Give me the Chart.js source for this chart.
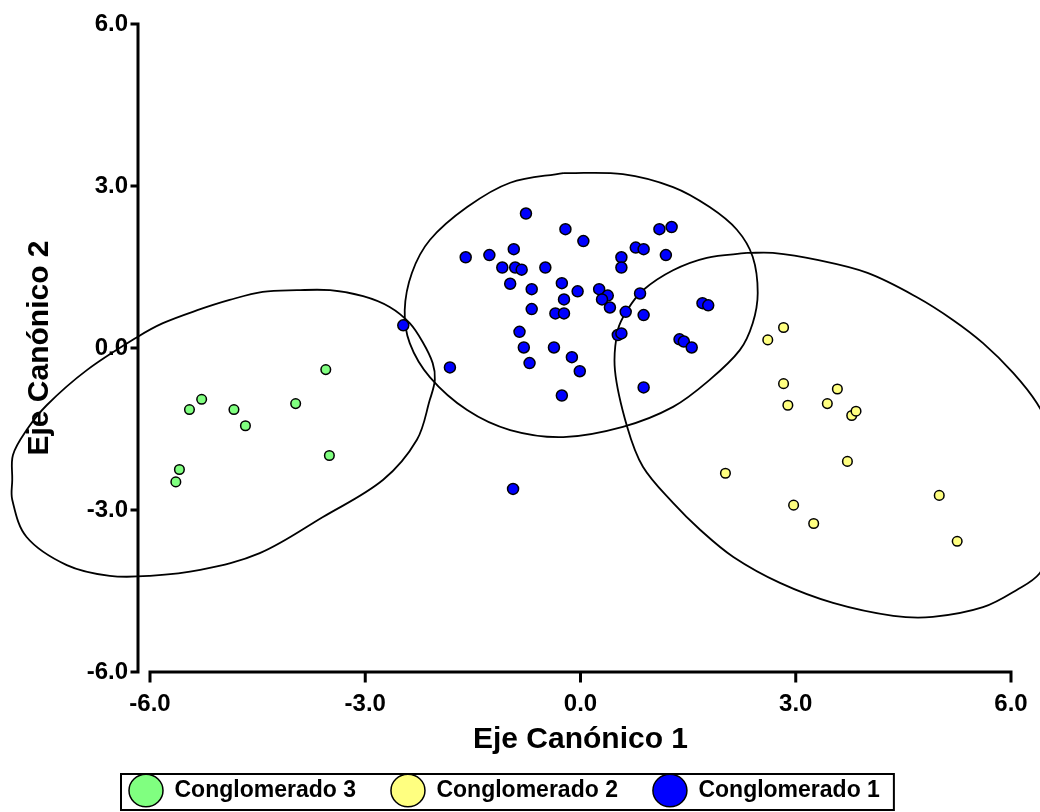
<!DOCTYPE html>
<html>
<head>
<meta charset="utf-8">
<script src="https://cdn.jsdelivr.net/npm/chart.js@4.4.0/dist/chart.umd.min.js"></script>
<style>
  html, body { margin: 0; padding: 0; background: #fff; }
  #wrap { width: 1040px; height: 812px; }
</style>
</head>
<body>
<div id="wrap"><canvas id="myChart"></canvas></div>
<script>
// tick values on both axes
const tickValues = [-6, -3, 0, 3, 6];

// Conglomerado 3 (green)
const c3x = [-3.55, -5.28, -5.45, -4.83, -3.97, -4.67, -3.50, -5.59, -5.64];
const c3y = [-0.40, -0.95, -1.14, -1.14, -1.03, -1.44, -1.99, -2.25, -2.48];

// Conglomerado 2 (yellow)
const c2x = [2.83, 2.61, 2.83, 2.89, 3.58, 3.44, 3.78, 3.84, 3.72, 2.02, 2.97, 3.25, 5.00, 5.25];
const c2y = [0.38, 0.15, -0.66, -1.06, -0.76, -1.03, -1.25, -1.17, -2.10, -2.32, -2.91, -3.25, -2.73, -3.58];

// Conglomerado 1 (blue)
const c1x = [-0.76, -0.21, 0.04, 1.10, 1.27, 0.77, 0.88, 0.57, 0.57, 1.19,
             -1.60, -1.27, -0.93, -1.09, -0.91, -0.82, -0.49, -0.98, -0.68, -0.26,
             -0.04, -0.23, 0.26, 0.38, 0.30, 0.41, 0.83, -0.68, -0.35, -0.23,
             0.63, 0.88, 1.70, 1.78, -2.47, -0.85, 0.52, 0.57, 1.38, 1.44,
             1.55, -0.79, -0.37, -0.12, -0.71, -0.01, -1.82, 0.88, -0.26, -0.94];
const c1y = [2.49, 2.20, 1.98, 2.20, 2.24, 1.86, 1.83, 1.68, 1.49, 1.72,
             1.68, 1.72, 1.83, 1.49, 1.49, 1.45, 1.49, 1.19, 1.09, 1.20,
             1.05, 0.90, 1.09, 0.97, 0.90, 0.75, 1.01, 0.72, 0.64, 0.64,
             0.67, 0.61, 0.83, 0.79, 0.42, 0.30, 0.24, 0.27, 0.16, 0.12,
             0.01, 0.01, 0.01, -0.17, -0.28, -0.43, -0.36, -0.73, -0.88, -2.61];

// ellipse outlines
const e3x = [-7.92, -7.91, -7.72, -7.44, -6.88, -6.18, -5.82, -5.34, -4.89, -4.43, -3.95, -3.49, -3.03, -2.66, -2.38,
             -2.20, -2.06, -2.03, -2.10, -2.28, -2.75, -3.59, -4.47, -5.30, -6.00, -6.56, -7.16, -7.72, -7.92, -7.92];
const e3y = [-2.44, -1.98, -1.52, -1.06, -0.41, 0.20, 0.46, 0.70, 0.89, 1.04, 1.07, 1.07, 0.96, 0.76, 0.46,
             0.11, -0.28, -0.59, -0.96, -1.70, -2.44, -3.13, -3.80, -4.11, -4.22, -4.22, -4.02, -3.50, -2.81, -2.44];

const e1x = [-0.24, 0.59, 1.29, 1.80, 2.18, 2.40, 2.47, 2.40, 2.22, 1.80, 1.29, 0.59, -0.24, -0.98, -1.58,
             -2.10, -2.38, -2.45, -2.35, -2.10, -1.58, -0.98, -0.24];
const e1y = [3.24, 3.22, 2.98, 2.61, 2.19, 1.69, 1.02, 0.46, -0.04, -0.59, -1.09, -1.46, -1.65, -1.52, -1.15,
             -0.54, 0.09, 0.70, 1.39, 2.00, 2.61, 3.06, 3.24];

const e2x = [2.32, 2.68, 3.30, 4.00, 4.69, 5.19, 5.61, 6.03, 6.36, 6.61, 6.72, 6.61, 6.40, 6.08, 5.61,
             4.91, 4.36, 3.52, 2.78, 2.13, 1.67, 1.29, 0.87, 0.65, 0.48, 0.52, 0.65, 0.87, 1.29, 1.76, 2.32];
const e2y = [1.76, 1.76, 1.63, 1.39, 0.94, 0.52, 0.09, -0.46, -1.02, -1.70, -2.63, -3.56, -4.17, -4.48, -4.80,
             -4.98, -4.96, -4.72, -4.35, -3.87, -3.37, -2.87, -2.20, -1.46, -0.41, 0.33, 0.70, 1.07, 1.44, 1.67, 1.76];

const toXY = (xs, ys) => xs.map((x, i) => ({x: x, y: ys[i]}));

function pointSet(label, xs, ys, color, r) {
  return {
    label: label,
    data: toXY(xs, ys),
    backgroundColor: color,
    borderColor: '#000',
    borderWidth: 1.5,
    pointRadius: r,
    pointHoverRadius: r,
    pointStyle: 'circle'
  };
}
function outline(xs, ys) {
  return {
    label: 'outline',
    data: toXY(xs, ys),
    showLine: true,
    tension: 0.35,
    borderColor: '#000',
    borderWidth: 1.8,
    pointRadius: 0,
    fill: false,
    clip: false
  };
}

const axesPlugin = {
  id: 'axesPlugin',
  afterLayout(chart) {
    // legend starts under the y axis title, not at the canvas edge
    const lg = chart.legend;
    if (!lg) return;
    const w = lg.right - lg.left;
    lg.left = 129 - lg.options.labels.padding;
    lg.right = lg.left + w;
  },
  afterDraw(chart) {
    const c = chart.ctx, xs = chart.scales.x, ys = chart.scales.y;
    c.save();
    c.strokeStyle = '#000';
    c.lineWidth = 3;
    c.lineCap = 'square';
    // y axis, set a little to the left of the plot
    const ax = xs.left - 12;
    c.beginPath();
    c.moveTo(ax, ys.getPixelForValue(6));
    c.lineTo(ax, ys.getPixelForValue(-6));
    tickValues.forEach(v => {
      const py = ys.getPixelForValue(v);
      c.moveTo(ax, py);
      c.lineTo(ax - 6, py);
    });
    c.stroke();
    // x axis
    const ay = ys.getPixelForValue(-6);
    c.beginPath();
    c.moveTo(xs.getPixelForValue(-6), ay);
    c.lineTo(xs.getPixelForValue(6), ay);
    tickValues.forEach(v => {
      const px = xs.getPixelForValue(v);
      c.moveTo(px, ay);
      c.lineTo(px, ay + 9);
    });
    c.stroke();
    // frame around the legend
    const lg = chart.legend;
    if (lg && lg.legendHitBoxes.length) {
      const hb = lg.legendHitBoxes, last = hb[hb.length - 1];
      const l = hb[0].left - 8, r = last.left + last.width + 14;
      const t = hb[0].top - 5;
      c.lineWidth = 2;
      c.strokeRect(l, t, r - l, chart.height - 2 - t);
    }
    c.restore();
  }
};

Chart.defaults.color = '#000';
Chart.defaults.font.family = "'Liberation Sans', Arial, sans-serif";

const ctx = document.getElementById('myChart');
new Chart(ctx, {
  type: 'scatter',
  data: {
    datasets: [
      pointSet('Conglomerado 3', c3x, c3y, '#80FF80', 4.8),
      pointSet('Conglomerado 2', c2x, c2y, '#FFFF80', 4.8),
      pointSet('Conglomerado 1', c1x, c1y, '#0000FF', 5.5),
      outline(e3x, e3y),
      outline(e1x, e1y),
      outline(e2x, e2y)
    ]
  },
  options: {
    responsive: true,
    maintainAspectRatio: false,
    animation: false,
    layout: { padding: { top: 24, right: 29, left: 0, bottom: 0 } },
    scales: {
      x: {
        type: 'linear',
        min: -6, max: 6,
        afterBuildTicks: s => { s.ticks = tickValues.map(v => ({value: v})); },
        afterFit: s => { s.height = 72; s.paddingLeft = 0; s.paddingRight = 0; },
        grid: { display: false, drawTicks: false },
        border: { display: false },
        ticks: {
          padding: 18,
          font: { size: 24, weight: 'bold' },
          callback: v => v.toFixed(1)
        },
        title: {
          display: true,
          text: 'Eje Canónico 1',
          font: { size: 30, weight: 'bold' },
          padding: { top: 0, bottom: -14 }
        }
      },
      y: {
        type: 'linear',
        min: -6, max: 6,
        afterBuildTicks: s => { s.ticks = tickValues.map(v => ({value: v})); },
        afterFit: s => { s.width = 150; s.paddingTop = 0; s.paddingBottom = 0; },
        grid: { display: false, drawTicks: false },
        border: { display: false },
        ticks: {
          padding: 22,
          font: { size: 24, weight: 'bold' },
          callback: v => v.toFixed(1)
        },
        title: {
          display: true,
          text: 'Eje Canónico 2',
          font: { size: 30, weight: 'bold' },
          padding: { top: 22, bottom: 0 }
        }
      }
    },
    plugins: {
      tooltip: { enabled: false },
      legend: {
        position: 'bottom',
        align: 'start',
        labels: {
          filter: item => item.datasetIndex < 3,
          usePointStyle: true,
          pointStyle: 'circle',
          pointStyleWidth: 34,
          boxHeight: 23,
          padding: 35,
          font: { size: 23, weight: 'bold' }
        }
      }
    }
  },
  plugins: [axesPlugin]
});
</script>
</body>
</html>
